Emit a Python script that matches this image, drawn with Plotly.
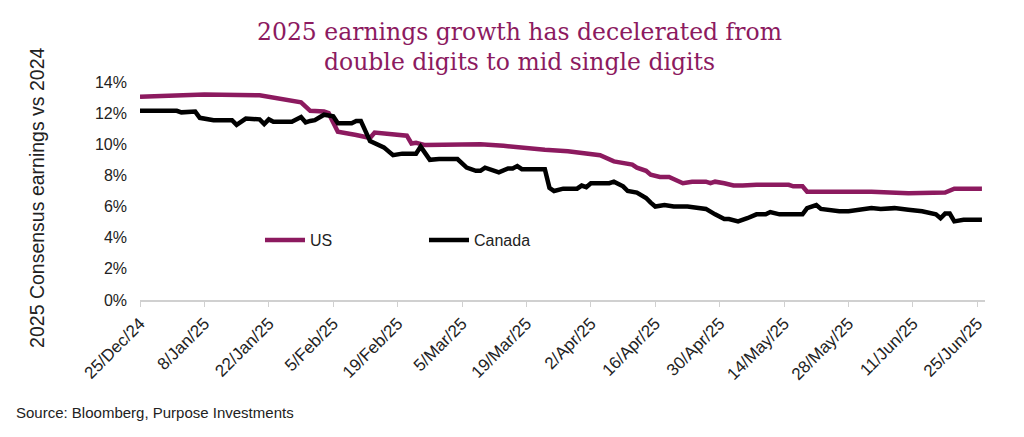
import plotly.graph_objects as go

# US 2025 consensus earnings growth vs 2024 (%)
us_dates = [
    "2024-12-25", "2025-01-08", "2025-01-20", "2025-01-28", "2025-01-29", "2025-01-31",
    "2025-02-03", "2025-02-04", "2025-02-05", "2025-02-06", "2025-02-10", "2025-02-13",
    "2025-02-14", "2025-02-19", "2025-02-21", "2025-02-22", "2025-02-23", "2025-02-25",
    "2025-03-09", "2025-03-14", "2025-03-17", "2025-03-23", "2025-03-28", "2025-03-31",
    "2025-04-04", "2025-04-07", "2025-04-11", "2025-04-12", "2025-04-14", "2025-04-15",
    "2025-04-17", "2025-04-19", "2025-04-22", "2025-04-24", "2025-04-27", "2025-04-28",
    "2025-04-29", "2025-05-01", "2025-05-03", "2025-05-05", "2025-05-08", "2025-05-15",
    "2025-05-16", "2025-05-18", "2025-05-19", "2025-05-30", "2025-06-02", "2025-06-10",
    "2025-06-16", "2025-06-18", "2025-06-20", "2025-06-26",
]
us_values = [
    13.05, 13.2, 13.15, 12.8, 12.7, 12.15,
    12.1, 12.0, 11.4, 10.8, 10.6, 10.4,
    10.75, 10.65, 10.55, 10.05, 10.1, 9.95,
    10.0, 9.9, 9.8, 9.65, 9.55, 9.45,
    9.3, 8.9, 8.7, 8.5, 8.3, 8.05,
    7.9, 7.9, 7.5, 7.6, 7.6, 7.5,
    7.6, 7.5, 7.35, 7.35, 7.4, 7.4,
    7.3, 7.3, 6.95, 6.95, 6.95, 6.85,
    6.85, 6.9, 7.15, 7.15,
]

# Canada 2025 consensus earnings growth vs 2024 (%)
ca_dates = [
    "2024-12-25", "2025-01-02", "2025-01-03", "2025-01-06", "2025-01-07", "2025-01-10",
    "2025-01-14", "2025-01-15", "2025-01-17", "2025-01-20", "2025-01-21", "2025-01-22",
    "2025-01-23", "2025-01-27", "2025-01-29", "2025-01-30", "2025-01-31", "2025-02-01",
    "2025-02-03", "2025-02-05", "2025-02-06", "2025-02-09", "2025-02-10", "2025-02-11",
    "2025-02-13", "2025-02-15", "2025-02-16", "2025-02-18", "2025-02-20", "2025-02-23",
    "2025-02-24", "2025-02-26", "2025-02-28", "2025-03-04", "2025-03-06", "2025-03-08",
    "2025-03-09", "2025-03-10", "2025-03-13", "2025-03-15", "2025-03-16", "2025-03-17",
    "2025-03-18", "2025-03-23", "2025-03-24", "2025-03-25", "2025-03-27", "2025-03-30",
    "2025-03-31", "2025-04-01", "2025-04-02", "2025-04-06", "2025-04-07", "2025-04-09",
    "2025-04-10", "2025-04-12", "2025-04-14", "2025-04-15", "2025-04-16", "2025-04-18",
    "2025-04-20", "2025-04-23", "2025-04-27", "2025-04-29", "2025-05-01", "2025-05-02",
    "2025-05-04", "2025-05-06", "2025-05-08", "2025-05-10", "2025-05-11", "2025-05-13",
    "2025-05-18", "2025-05-19", "2025-05-21", "2025-05-22", "2025-05-26", "2025-05-28",
    "2025-05-30", "2025-06-02", "2025-06-04", "2025-06-07", "2025-06-10", "2025-06-13",
    "2025-06-16", "2025-06-17", "2025-06-18", "2025-06-19", "2025-06-20", "2025-06-22",
    "2025-06-26",
]
ca_values = [
    12.15, 12.15, 12.05, 12.1, 11.7, 11.55,
    11.55, 11.25, 11.65, 11.6, 11.3, 11.6,
    11.45, 11.45, 11.75, 11.4, 11.5, 11.55,
    11.9, 11.8, 11.35, 11.35, 11.5, 11.5,
    10.2, 9.9, 9.8, 9.3, 9.4, 9.4,
    9.85, 9.0, 9.05, 9.05, 8.5, 8.3,
    8.3, 8.5, 8.2, 8.45, 8.45, 8.6,
    8.4, 8.4, 7.2, 7.0, 7.15, 7.15,
    7.35, 7.25, 7.5, 7.5, 7.6, 7.3,
    7.0, 6.9, 6.55, 6.25, 6.0, 6.1,
    6.0, 6.0, 5.85, 5.5, 5.2, 5.2,
    5.05, 5.25, 5.5, 5.5, 5.65, 5.5,
    5.5, 5.9, 6.1, 5.85, 5.7, 5.7,
    5.8, 5.9, 5.85, 5.9, 5.8, 5.7,
    5.5, 5.25, 5.55, 5.55, 5.05, 5.15,
    5.15,
]

tick_dates = [
    "2024-12-25", "2025-01-08", "2025-01-22", "2025-02-05", "2025-02-19", "2025-03-05",
    "2025-03-19", "2025-04-02", "2025-04-16", "2025-04-30", "2025-05-14", "2025-05-28",
    "2025-06-11", "2025-06-25",
]
tick_labels = [
    "25/Dec/24", "8/Jan/25", "22/Jan/25", "5/Feb/25", "19/Feb/25", "5/Mar/25",
    "19/Mar/25", "2/Apr/25", "16/Apr/25", "30/Apr/25", "14/May/25", "28/May/25",
    "11/Jun/25", "25/Jun/25",
]
y_ticks = [0, 2, 4, 6, 8, 10, 12, 14]
y_labels = ["0%", "2%", "4%", "6%", "8%", "10%", "12%", "14%"]

title_lines = ["2025 earnings growth has decelerated from",
               "double digits to mid single digits"]

PLUM = "#8C1A5F"
INK = "#222222"

fig = go.Figure()
fig.add_trace(go.Scatter(x=us_dates, y=us_values, mode="lines", name="US",
                         line=dict(color=PLUM, width=4.5)))
fig.add_trace(go.Scatter(x=ca_dates, y=ca_values, mode="lines", name="Canada",
                         line=dict(color="#000000", width=4.5)))

# the page puts the plot 8px in from the top-left, so the figure is a bit smaller
annotations = [
    dict(text=title_lines[0], x=0.449, y=1.229),
    dict(text=title_lines[1], x=0.449, y=1.092),
]
for a in annotations:
    a.update(xref="paper", yref="paper", xanchor="center", yanchor="middle",
             showarrow=False, font=dict(family="DejaVu Serif, serif", size=23.5, color=PLUM))
annotations.append(dict(
    text="2025 Consensus earnings vs 2024", xref="paper", yref="paper",
    x=-0.122, y=0.468, xanchor="center", yanchor="middle", textangle=-90,
    showarrow=False, font=dict(size=19.5, color=INK),
))
annotations.append(dict(
    text="Source: Bloomberg, Purpose Investments", xref="paper", yref="paper",
    x=-0.149, y=-0.514, xanchor="left", yanchor="middle", showarrow=False,
    font=dict(size=15, color=INK),
))

fig.update_layout(
    width=1016, height=429,
    margin=dict(l=132, r=39, t=74, b=137),
    paper_bgcolor="white", plot_bgcolor="white",
    font=dict(family="Liberation Sans, Arial, sans-serif", color=INK),
    showlegend=True,
    legend=dict(
        orientation="h", x=0.142, y=0.275, xanchor="left", yanchor="middle",
        bgcolor="rgba(0,0,0,0)", font=dict(size=16, color=INK),
        entrywidth=109, itemwidth=40,
    ),
    annotations=annotations,
)

fig.update_xaxes(
    type="date", range=["2024-12-25", "2025-06-26 16:00"],
    tickvals=tick_dates, ticktext=tick_labels, tickangle=-45,
    tickfont=dict(size=17, color=INK),
    showgrid=False, showline=True, linecolor="#d0d0d0", linewidth=2,
    ticks="outside", ticklen=5, tickcolor="#d0d0d0", tickwidth=1,
    zeroline=False,
)
fig.update_yaxes(
    range=[0, 14], tickvals=y_ticks, ticktext=y_labels,
    tickfont=dict(size=16, color=INK), ticklabelstandoff=12,
    showgrid=False, showline=False, zeroline=False, ticks="",
)

fig.write_html("out.html")
